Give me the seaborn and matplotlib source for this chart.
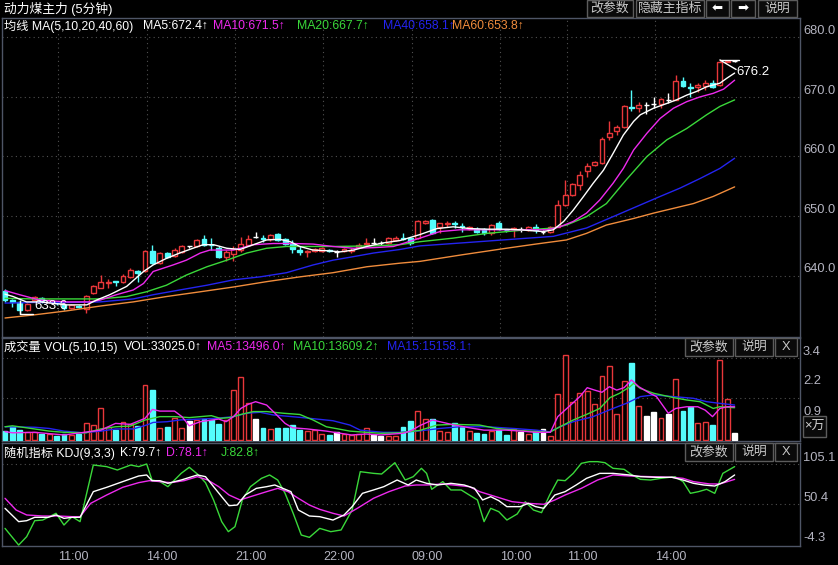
import numpy as np
import pandas as pd
import matplotlib
matplotlib.use("Agg")
import matplotlib.pyplot as plt
import seaborn as sns
from matplotlib.patches import Rectangle

# ---------------- data ----------------
opens = [637.5, 635.9, 635.5, 634.2, 636.0, 636.2, 635.6, 635.6, 635.1, 634.5,
         634.9, 634.4, 637.1, 638.0, 638.7, 639.1, 639.0, 639.8, 640.8, 640.8,
         644.1, 642.2, 643.8, 643.3, 644.0, 644.9, 645.0, 646.1, 645.2, 644.7,
         643.1, 643.6, 644.3, 645.1, 646.5, 646.3, 646.1, 647.0, 646.1, 645.3,
         644.3, 643.9, 644.2, 644.1, 644.3, 644.0, 644.1, 644.1, 644.8, 645.3,
         645.4, 645.5, 645.5, 646.0, 646.3, 646.3, 646.3, 648.8, 649.4, 648.2,
         648.7, 648.8, 648.3, 647.9, 647.9, 647.8, 647.1, 648.8, 647.7, 647.9,
         647.8, 647.7, 648.2, 647.4, 647.4, 648.2, 651.9, 653.5, 655.2, 657.5,
         658.6, 658.9, 663.3, 664.2, 664.9, 668.3, 668.2, 668.6, 668.8, 668.8,
         669.4, 669.5, 672.7, 671.6, 671.7, 671.8, 672.4, 672.0, 675.9, 676.0]
highs = [637.7, 636.1, 635.9, 635.4, 636.6, 636.4, 636.1, 635.8, 635.3, 635.3,
         635.1, 636.8, 638.5, 640.1, 639.4, 639.1, 640.3, 641.3, 640.9, 644.3,
         645.1, 644.0, 644.0, 644.6, 645.1, 645.0, 646.2, 646.8, 646.3, 644.9,
         644.3, 644.9, 646.5, 646.8, 647.4, 646.8, 647.0, 647.2, 646.3, 646.0,
         644.9, 644.3, 644.6, 644.8, 644.5, 644.3, 644.6, 644.6, 645.4, 646.3,
         646.3, 645.9, 646.5, 646.6, 647.1, 646.5, 649.3, 649.3, 649.5, 648.9,
         649.1, 649.1, 648.8, 648.4, 648.1, 648.0, 648.7, 649.1, 647.9, 648.2,
         648.2, 648.3, 648.6, 647.7, 648.4, 652.7, 656.1, 655.6, 657.5, 658.9,
         659.2, 663.2, 665.9, 665.3, 668.6, 671.2, 669.2, 669.2, 670.0, 669.8,
         670.6, 673.7, 673.4, 672.3, 672.4, 672.8, 672.8, 676.0, 676.2, 676.2]
lows = [635.6, 634.8, 633.6, 634.0, 635.8, 635.4, 635.4, 635.0, 634.3, 634.4,
        634.5, 633.8, 636.9, 637.9, 638.0, 638.3, 638.8, 639.6, 639.0, 640.6,
        642.0, 642.0, 643.0, 643.1, 643.8, 644.7, 644.8, 645.0, 644.3, 643.0,
        642.4, 642.4, 644.0, 644.9, 646.4, 645.7, 645.9, 645.8, 645.1, 643.8,
        643.5, 643.1, 644.0, 643.9, 644.0, 643.1, 643.9, 643.8, 644.6, 645.1,
        645.3, 645.2, 645.3, 645.8, 646.0, 645.2, 646.1, 648.6, 647.0, 647.1,
        648.2, 648.0, 647.4, 647.7, 647.2, 646.9, 646.9, 647.7, 647.4, 646.5,
        647.4, 647.5, 647.1, 647.0, 647.2, 648.1, 651.7, 653.3, 654.4, 656.6,
        658.4, 658.7, 662.8, 663.6, 664.7, 667.7, 667.4, 667.1, 668.1, 668.1,
        669.0, 669.4, 671.7, 670.0, 670.9, 671.2, 671.5, 671.8, 675.8, 675.8]
closes = [636.0, 635.6, 634.2, 635.2, 636.4, 635.8, 635.9, 635.4, 634.5, 635.1,
          634.7, 636.6, 638.3, 639.0, 639.0, 639.0, 640.0, 641.0, 640.4, 644.1,
          642.1, 643.8, 643.2, 644.3, 644.9, 644.9, 646.0, 645.1, 645.1, 643.2,
          643.9, 644.4, 645.3, 646.1, 646.5, 646.2, 646.8, 646.0, 645.3, 644.5,
          643.9, 644.1, 644.4, 644.6, 644.2, 644.0, 644.4, 644.3, 645.2, 645.5,
          645.4, 645.5, 646.3, 646.4, 646.2, 645.4, 649.1, 649.1, 647.2, 648.8,
          648.8, 648.7, 648.2, 648.2, 647.4, 647.1, 648.5, 647.9, 647.6, 648.0,
          647.8, 648.1, 647.6, 647.4, 648.2, 651.9, 653.5, 655.4, 656.9, 658.4,
          659.0, 663.0, 664.0, 664.9, 668.4, 668.2, 668.6, 668.6, 668.8, 669.6,
          669.4, 672.6, 671.9, 671.5, 672.0, 672.4, 671.7, 675.8, 676.1, 676.0]
volumes = [0.37, 0.55, 0.41, 0.35, 0.35, 0.25, 0.24, 0.17, 0.24, 0.21,
           0.26, 0.69, 0.62, 1.31, 0.55, 0.41, 0.76, 0.66, 0.59, 2.28,
           2.07, 0.48, 0.54, 0.91, 0.51, 0.79, 0.83, 0.87, 0.83, 0.65,
           0.83, 2.07, 2.63, 1.52, 0.87, 0.51, 0.46, 0.51, 0.48, 0.62,
           0.41, 0.37, 0.41, 0.24, 0.21, 0.32, 0.24, 0.21, 0.24, 0.48,
           0.21, 0.18, 0.17, 0.17, 0.55, 0.80, 1.20, 0.87, 0.87, 0.37,
           0.35, 0.69, 0.55, 0.37, 0.28, 0.25, 0.37, 0.41, 0.21, 0.46,
           0.32, 0.25, 0.37, 0.46, 0.17, 1.90, 3.53, 1.59, 1.94, 2.03,
           1.48, 2.66, 3.07, 1.07, 2.45, 3.20, 1.41, 0.99, 1.15, 0.90,
           1.09, 2.53, 1.20, 1.38, 0.69, 0.73, 0.62, 3.32, 1.70, 0.28]

# moving-average curves (bar index, value)
ma5_x = [0, 1.1, 2.9, 4.7, 8.4, 11.1, 12.4, 14.2, 16.5, 18.8, 20.1, 21.9, 23.7, 25.5, 26.9, 28.3, 30.1,
         31.9, 33.7, 35.5, 37.3, 38.7, 40.0, 41.8, 43.6, 45.5, 47.3, 49.1, 51.3, 53.6, 56.3, 58.6, 60.8,
         63.1, 65.4, 68.1, 69.9, 73.0, 74.4, 75.8, 77.1, 78.5, 79.8, 81.2, 82.5, 83.9, 85.3, 86.2, 88.0,
         89.8, 91.1, 92.5, 93.8, 95.2, 96.1, 97.0, 97.9, 99.0]
ma5_y = [636.9, 636.5, 635.6, 635.6, 635.1, 635.1, 635.9, 636.8, 638.2, 640.7, 641.8, 642.9, 643.8, 644.6,
         645.2, 645.2, 644.6, 644.4, 645.2, 646.0, 646.1, 645.7, 644.9, 644.3, 644.2, 644.0, 644.3, 644.9,
         645.5, 645.9, 646.9, 647.9, 648.2, 647.9, 647.8, 647.8, 647.7, 647.4, 647.7, 649.1, 651.0, 653.3,
         655.5, 657.7, 660.5, 663.6, 665.9, 667.0, 668.1, 668.9, 669.5, 670.3, 670.9, 671.7, 672.0, 672.3,
         673.1, 674.0]
ma10_x = [0, 2.0, 4.7, 8.4, 11.5, 12.9, 15.1, 17.4, 18.8, 20.1, 22.8, 24.6, 26.5, 27.8, 31.0, 33.7, 36.4,
          39.1, 41.8, 44.5, 47.3, 50.0, 52.7, 56.3, 59.0, 61.7, 65.4, 69.9, 73.5, 75.3, 77.1, 78.9, 80.7,
          82.5, 83.9, 85.3, 87.1, 88.9, 90.7, 92.5, 94.3, 96.1, 97.5, 99.0]
ma10_y = [637.5, 636.8, 635.9, 635.6, 635.6, 635.9, 636.8, 637.6, 638.7, 640.7, 641.8, 642.6, 643.8, 644.3,
          644.3, 645.2, 645.4, 645.4, 645.3, 644.9, 644.6, 644.7, 644.9, 646.3, 647.4, 647.7, 647.7, 647.7,
          647.7, 648.2, 649.1, 650.5, 652.7, 655.5, 658.0, 661.1, 663.9, 666.4, 668.1, 669.2, 670.0, 670.6,
          671.3, 672.8]
ma20_x = [0, 3.8, 8.4, 12.9, 16.5, 19.2, 21.9, 24.6, 27.4, 30.1, 32.8, 35.5, 38.2, 44.5, 50.0, 53.6, 56.3,
          60.8, 65.4, 69.9, 74.4, 76.2, 78.9, 81.6, 84.3, 87.1, 89.8, 92.5, 95.2, 97.0, 99.0]
ma20_y = [636.2, 636.1, 636.1, 636.1, 636.5, 637.3, 638.4, 640.1, 641.5, 642.6, 643.8, 644.6, 644.9, 644.9,
          645.0, 645.2, 645.7, 646.3, 647.1, 647.6, 648.0, 648.5, 649.9, 652.1, 656.1, 660.0, 662.8, 664.7,
          667.0, 668.4, 669.5]
ma40_x = [0, 3.8, 8.4, 12.9, 17.4, 20.1, 23.7, 27.4, 31.0, 34.6, 38.2, 41.8, 44.5, 47.3, 50.0, 53.6, 56.3,
          62.0, 67.6, 74.4, 78.9, 82.5, 85.7, 88.9, 91.6, 94.3, 97.0, 99.0]
ma40_y = [635.4, 635.5, 635.5, 635.6, 636.1, 636.8, 637.6, 638.4, 639.3, 639.8, 640.5, 641.8, 642.6, 643.2,
          643.8, 644.4, 645.0, 645.5, 646.0, 646.6, 648.0, 649.9, 651.6, 653.3, 654.7, 656.3, 658.0, 659.7]
ma60_x = [0, 3.8, 8.4, 12.9, 17.4, 21.9, 26.5, 31.0, 35.5, 40.0, 44.5, 49.1, 53.6, 56.3, 62.0, 68.0, 72.0,
          76.2, 78.9, 81.6, 85.3, 88.0, 90.7, 93.4, 96.1, 99.0]
ma60_y = [632.9, 633.4, 634.1, 634.9, 635.6, 636.5, 637.3, 638.1, 639.0, 639.8, 640.5, 641.5, 642.1, 642.4,
          643.5, 644.6, 645.3, 646.0, 647.1, 648.5, 649.6, 650.5, 651.3, 652.1, 653.3, 654.9]

vma5_x = [0, 1, 4, 8, 13, 15, 17, 19, 20, 21, 23, 24, 25, 26.5, 29, 30, 31, 32, 33, 34, 35.5, 36.4, 38, 39,
          41, 43.6, 47, 49, 51, 54, 55, 56.3, 58, 60, 61, 63, 65, 68, 70, 72, 74, 75, 77, 78, 79, 80, 81,
          82, 83, 84, 85, 86, 87.5, 88.4, 90, 91, 92.5, 94, 95, 96, 97, 98, 99]
vma5_y = [0.35, 0.30, 0.32, 0.21, 0.41, 0.69, 0.65, 0.90, 1.27, 1.20, 1.20, 0.97, 0.59, 0.76, 0.87, 0.76,
          0.97, 1.31, 1.48, 1.59, 1.45, 1.18, 0.69, 0.51, 0.46, 0.37, 0.21, 0.25, 0.21, 0.28, 0.37, 0.60,
          0.83, 0.69, 0.62, 0.51, 0.41, 0.41, 0.37, 0.32, 0.32, 0.97, 1.52, 1.80, 2.17, 2.07, 1.98, 2.21,
          2.07, 2.17, 2.49, 2.21, 1.94, 1.80, 1.11, 1.31, 1.38, 1.38, 1.24, 0.97, 1.31, 1.38, 1.38]
vma10_x = [0, 1, 4, 6, 8, 11, 13, 15, 17, 19, 21, 23, 25, 26.5, 28, 29.2, 30.5, 32, 33.7, 35.5, 37.8, 40,
           41.8, 43.6, 46.8, 49, 51, 53.6, 56.3, 58.6, 60.8, 64.4, 66.7, 69.9, 73.9, 75.3, 77.1, 78.9,
           80.7, 82.1, 83.4, 84.8, 85.3, 86.2, 88, 90.7, 92.5, 94.3, 96.1, 97, 99]
vma10_y = [0.55, 0.59, 0.46, 0.37, 0.32, 0.30, 0.46, 0.55, 0.58, 0.83, 0.97, 0.97, 0.93, 0.97, 1.01, 0.90,
           0.93, 1.06, 1.18, 1.18, 1.11, 1.06, 0.83, 0.55, 0.37, 0.32, 0.28, 0.30, 0.40, 0.62, 0.65, 0.62,
           0.48, 0.39, 0.32, 0.55, 0.83, 1.06, 1.31, 1.76, 1.94, 2.21, 2.35, 2.14, 1.94, 1.76, 1.66, 1.59,
           1.31, 1.38, 1.34]
vma15_x = [0, 4, 6, 8, 10.6, 13, 15, 17.4, 19.2, 20.1, 22, 23.7, 26.5, 28.7, 31, 32.8, 34.6, 36.4, 40,
           42.3, 44.5, 46.8, 48.2, 51.3, 53.6, 56.3, 59, 61.7, 65.4, 69, 72.1, 73.9, 75.3, 77.1, 79.8,
           82.5, 84.3, 86.2, 88, 90.7, 93.4, 95.2, 97, 99]
vma15_y = [0.55, 0.53, 0.48, 0.37, 0.30, 0.37, 0.46, 0.46, 0.62, 0.73, 0.76, 0.83, 0.87, 0.90, 0.97, 1.11,
           1.15, 1.04, 0.94, 0.87, 0.80, 0.62, 0.41, 0.32, 0.32, 0.38, 0.48, 0.55, 0.55, 0.48, 0.41, 0.34,
           0.55, 0.76, 0.97, 1.31, 1.52, 1.80, 1.87, 1.80, 1.73, 1.59, 1.52, 1.45]

k_x = [0, 1.85, 2.94, 4.03, 5.83, 6.92, 8.0, 9.09, 10.18, 11.98, 13.79, 15.97, 18.14, 19.22, 19.94, 21.03,
       22.1, 23.9, 26.1, 27.2, 28.3, 29.4, 30.4, 31.5, 32.6, 34.1, 35.5, 36.6, 37.7, 38.8, 39.8, 41.3,
       42.7, 44.5, 46.0, 47.1, 48.5, 50.0, 51.4, 53.2, 54.7, 55.8, 57.2, 58.7, 60.5, 62.3, 63.7, 64.8,
       65.9, 67.0, 68.1, 69.9, 71.0, 72.0, 73.1, 74.6, 76.0, 77.5, 78.9, 80.7, 82.5, 84.7, 86.2, 88.3,
       90.5, 92.0, 93.4, 94.8, 96.3, 97.7, 99.0]
k_y = [44.9, 26.7, 28.0, 32.6, 32.6, 35.8, 31.2, 32.6, 32.6, 67.7, 73.6, 81.4, 89.1, 90.5, 82.7, 82.7,
       79.1, 83.6, 90.5, 88.2, 74.5, 60.8, 48.5, 49.4, 63.1, 72.2, 74.5, 76.8, 72.2, 67.7, 42.6, 34.4,
       33.5, 28.9, 35.8, 47.2, 65.4, 70.0, 74.5, 83.6, 76.8, 83.6, 79.1, 76.8, 79.1, 76.8, 72.2, 56.3,
       60.8, 55.4, 47.2, 47.2, 51.7, 47.2, 44.9, 63.1, 67.7, 76.8, 85.9, 92.7, 92.7, 90.5, 88.2, 87.3,
       87.3, 83.6, 79.1, 76.8, 75.4, 81.4, 90.5]
d_x = [0, 1.5, 2.94, 5.11, 7.28, 9.09, 10.18, 11.62, 13.79, 15.97, 18.14, 19.58, 21.03, 22.5, 24.3, 26.1,
       27.5, 29.0, 30.4, 31.9, 33.3, 35.5, 37.0, 38.4, 39.8, 41.3, 42.7, 44.5, 46.0, 47.8, 50.0, 52.1,
       54.3, 55.8, 57.2, 59.4, 60.8, 63.0, 64.4, 66.6, 68.8, 71.0, 73.1, 74.6, 76.0, 78.2, 80.4, 82.5,
       84.7, 87.6, 90.5, 92.0, 93.4, 95.6, 97.0, 99.0]
d_y = [58.6, 42.6, 35.8, 34.4, 34.4, 33.5, 33.5, 51.7, 63.1, 73.6, 80.0, 82.7, 81.4, 80.0, 82.7, 88.2,
       83.6, 74.5, 63.1, 56.3, 60.8, 67.7, 72.2, 67.7, 58.6, 49.4, 43.5, 38.1, 34.4, 44.9, 58.6, 67.7,
       75.4, 76.8, 76.8, 78.2, 76.8, 74.5, 67.7, 60.8, 54.0, 51.7, 50.4, 56.3, 63.1, 72.2, 83.6, 90.5,
       89.1, 88.2, 87.3, 85.9, 81.4, 78.2, 78.2, 84.5]
j_x = [0, 1.85, 2.94, 4.03, 5.11, 6.92, 8.0, 9.09, 10.18, 11.98, 13.79, 15.24, 17.05, 18.14, 19.22, 19.94,
       21.03, 22.1, 23.9, 25.0, 26.1, 27.2, 28.3, 29.4, 30.3, 31.2, 32.2, 33.3, 34.8, 35.9, 37.0, 38.0,
       39.1, 40.2, 41.3, 42.7, 44.2, 45.6, 47.1, 48.2, 50.0, 51.1, 52.9, 54.3, 55.4, 56.5, 57.2, 57.9,
       59.4, 60.5, 61.9, 63.0, 64.1, 65.0, 65.9, 67.0, 68.1, 69.5, 70.6, 71.7, 72.8, 73.9, 75.0, 76.0,
       77.1, 78.2, 79.3, 80.4, 81.4, 82.5, 84.0, 85.1, 86.2, 87.6, 89.0, 90.9, 92.0, 93.0, 94.1, 95.2,
       96.3, 97.4, 99.0]
j_y = [17.5, -5.3, 6.2, 28.0, 28.9, 38.1, 22.1, 33.5, 26.7, 104.1, 101.9, 97.3, 104.1, 101.9, 105.5, 83.6,
       81.4, 74.5, 92.7, 101.0, 91.8, 80.0, 56.3, 26.7, 13.0, 19.8, 56.3, 74.5, 85.9, 90.5, 83.6, 65.4,
       38.1, 8.4, 5.2, 17.5, 13.0, 15.3, 42.6, 95.0, 92.7, 91.8, 107.3, 83.6, 88.2, 99.6, 92.7, 70.9,
       81.4, 70.0, 70.0, 63.1, 56.3, 26.7, 44.9, 40.3, 28.9, 37.2, 54.0, 42.6, 39.0, 63.1, 83.6, 82.7,
       92.7, 106.4, 108.7, 108.7, 107.3, 99.6, 98.2, 90.5, 84.5, 83.6, 85.9, 88.2, 81.4, 65.4, 67.7, 70.9,
       65.4, 92.7, 101.9]

time_ticks = [7, 19, 31, 43, 55, 67, 76, 88]
time_labels = ["11:00", "14:00", "21:00", "22:00", "09:00", "10:00", "11:00", "14:00"]
price_ticks = [680.0, 670.0, 660.0, 650.0, 640.0]
vol_ticks = [3.4, 2.2, 0.9]
vol_grid = [3.4, 1.75]
kdj_ticks = [105.1, 50.4, -4.3]
kdj_grid = [105.1, 50.4]
max_label = "676.2"
min_label = "633.6"

# ---------------- style ----------------
sns.set_style("dark", {"axes.facecolor": "black", "figure.facecolor": "black"})
FONT = ['Liberation Sans', 'Noto Sans CJK SC', 'DejaVu Sans']
plt.rcParams['font.family'] = FONT

RED = '#e8373a'
CYAN = '#54fcfc'
WHITE = '#ffffff'
MAG = '#ee2aee'
GRN = '#3ad83a'
BLU = '#2424f0'
ORG = '#f08c3c'
FRAME = '#4e5566'
GRID = '#505050'
AXTXT = '#b4b4c0'

W, H = 838, 565
fig = plt.figure(figsize=(W / 100, H / 100), dpi=100, facecolor='black')
XMIN, XMAX = -0.41, 107.87


def px_axes(x0, y0, x1, y1, ylim):
    ax = fig.add_axes([x0 / W, 1 - y1 / H, (x1 - x0) / W, (y1 - y0) / H])
    ax.set_facecolor('black')
    ax.set_xlim(XMIN, XMAX)
    ax.set_ylim(*ylim)
    ax.set_xticks([])
    ax.set_yticks([])
    ax.grid(False)
    for s in ax.spines.values():
        s.set_color(FRAME)
        s.set_linewidth(1.0)
    return ax


ax_p = px_axes(2, 18, 800, 337, (629.71, 683.24))
ax_v = px_axes(2, 338, 800, 441, (-0.04, 4.23))
ax_k = px_axes(2, 443, 800, 546, (-6.6, 134.2))

x = np.arange(len(opens))
o = np.array(opens); c = np.array(closes); h = np.array(highs); l = np.array(lows)
up = c > o
dn = c < o
fl = c == o
bar_col = np.where(up, RED, np.where(dn, CYAN, WHITE))

# ---------- grid ----------
DOT = (0, (1, 3))
for v in price_ticks:
    ax_p.axhline(v, color=GRID, lw=0.8, ls=DOT, zorder=1)
for t in time_ticks:
    ax_p.axvline(t + 0.2, color=GRID, lw=0.8, ls=DOT, zorder=1)
for v in vol_grid:
    ax_v.axhline(v, color=GRID, lw=0.8, ls=DOT, zorder=1)
for v in kdj_grid:
    ax_k.axhline(v, color=GRID, lw=0.8, ls=DOT, zorder=1)

# ---------- candles ----------
BW = 0.66
ax_p.vlines(x, l, h, colors=bar_col, lw=1.0, zorder=2)
bot = np.minimum(o, c)
hgt = np.abs(c - o)
ax_p.bar(x[up], hgt[up], bottom=bot[up], width=BW, facecolor='black', edgecolor=RED, lw=1.0, zorder=3)
ax_p.bar(x[dn], hgt[dn], bottom=bot[dn], width=BW, facecolor=CYAN, edgecolor=CYAN, lw=1.0, zorder=3)
ax_p.hlines(o[fl], x[fl] - BW / 2, x[fl] + BW / 2, colors=WHITE, lw=1.0, zorder=3)

# MA lines
for xs, ys, col in [(ma60_x, ma60_y, ORG), (ma40_x, ma40_y, BLU), (ma20_x, ma20_y, GRN),
                    (ma10_x, ma10_y, MAG), (ma5_x, ma5_y, WHITE)]:
    sns.lineplot(x=xs, y=ys, ax=ax_p, color=col, lw=1.0, legend=False, zorder=4)

# max / min markers
imax = int(np.argmax(h)); imin = int(np.argmin(l))
ax_p.plot([imax - 1, imax + 1.6], [h[imax], h[imax]], color=WHITE, lw=1.0, zorder=5)
ax_p.plot([imax - 1, imax + 1.2], [h[imax], h[imax] - 1.6], color=WHITE, lw=1.0, zorder=5)
ax_p.text(imax + 1.3, h[imax] - 2.1, max_label, color=WHITE, fontsize=9.5, va='center', ha='left', zorder=6)
ax_p.plot([imin, imin, imin + 1.8], [l[imin] + 2.2, l[imin], l[imin]], color=WHITE, lw=1.0, zorder=5)
ax_p.text(imin + 2.0, l[imin] + 1.25, min_label, color=WHITE, fontsize=9.5, va='center', ha='left', zorder=6)

# ---------- volume ----------
vfc = np.where(up, 'black', bar_col)
ax_v.bar(x, volumes, width=BW, facecolor=vfc, edgecolor=bar_col, lw=1.0, zorder=3)
for xs, ys, col in [(vma15_x, vma15_y, BLU), (vma10_x, vma10_y, GRN), (vma5_x, vma5_y, MAG)]:
    sns.lineplot(x=xs, y=ys, ax=ax_v, color=col, lw=1.0, legend=False, zorder=4)

# ---------- KDJ ----------
for xs, ys, col in [(j_x, j_y, GRN), (d_x, d_y, MAG), (k_x, k_y, WHITE)]:
    sns.lineplot(x=xs, y=ys, ax=ax_k, color=col, lw=1.0, legend=False, zorder=4)

for ax in (ax_p, ax_v, ax_k):
    ax.set_xlabel('')
    ax.set_ylabel('')


# ---------- right axis labels ----------
def right_labels(ax, vals, fmt):
    for v in vals:
        ax.annotate(fmt.format(v), xy=(1, v), xycoords=ax.get_yaxis_transform(),
                    xytext=(2.2, 4.6), textcoords='offset points', va='center', ha='left',
                    color=AXTXT, fontsize=9.3, annotation_clip=False)


right_labels(ax_p, price_ticks, "{:.1f}")
right_labels(ax_v, vol_ticks, "{:.1f}")
right_labels(ax_k, kdj_ticks, "{:.1f}")

# time labels
for t, lab in zip(time_ticks, time_labels):
    ax_k.annotate(lab, xy=(t + 0.2, 0), xycoords=ax_k.get_xaxis_transform(),
                  xytext=(0, -8.2), textcoords='offset points', va='center', ha='left',
                  color=AXTXT, fontsize=9.0, annotation_clip=False)


# ---------- header texts ----------
def ftext(px, py, s, color=WHITE, size=8.8):
    fig.text(px / W, 1 - py / H, s, color=color, fontsize=size, va='center', ha='left')


ftext(4, 9, "动力煤主力 (5分钟)", WHITE, 9.2)
ftext(4, 26, "均线 MA(5,10,20,40,60)")
ftext(143, 26, "MA5:672.4↑", WHITE)
ftext(213, 26, "MA10:671.5↑", MAG)
ftext(297, 26, "MA20:667.7↑", GRN)
ftext(383, 26, "MA40:658.1↑", BLU)
ftext(452, 26, "MA60:653.8↑", ORG)

ftext(4, 347, "成交量 VOL(5,10,15)")
ftext(124, 347, "VOL:33025.0↑", WHITE)
ftext(207, 347, "MA5:13496.0↑", MAG)
ftext(293, 347, "MA10:13609.2↑", GRN)
ftext(387, 347, "MA15:15158.1↑", BLU)

ftext(4, 453, "随机指标 KDJ(9,3,3)")
ftext(120, 453, "K:79.7↑", WHITE)
ftext(166, 453, "D:78.1↑", MAG)
ftext(221, 453, "J:82.8↑", GRN)


# ---------- buttons ----------
def button(x0, y0, x1, y1, label, size=9.3, color='#c8c8c8', family=None):
    fig.patches.append(Rectangle((x0 / W, 1 - y1 / H), (x1 - x0) / W, (y1 - y0) / H,
                                 transform=fig.transFigure, facecolor='#0a0a0a',
                                 edgecolor='#5c5c5c', lw=1.0, zorder=5))
    kw = {} if family is None else {'family': family}
    fig.text((x0 + x1) / 2 / W, 1 - (y0 + y1) / 2 / H, label, color=color, fontsize=size,
             ha='center', va='center', zorder=6, **kw)


button(587, 0, 633, 17, "改参数")
button(636, 0, 704, 17, "隐藏主指标")
button(706, 0, 729, 17, "⬅", 9.5, WHITE, ['DejaVu Sans'])
button(731, 0, 755, 17, "➡", 9.5, WHITE, ['DejaVu Sans'])
button(758, 0, 797, 17, "说明")
for yy in (338, 443):
    button(685, yy, 733, yy + 18, "改参数")
    button(735, yy, 773, yy + 18, "说明")
    button(775, yy, 797, yy + 18, "X")
button(803, 416, 826, 437, "×万", 9.3, '#d0d0d0')

fig.savefig("out.png", dpi=100, facecolor='black')
